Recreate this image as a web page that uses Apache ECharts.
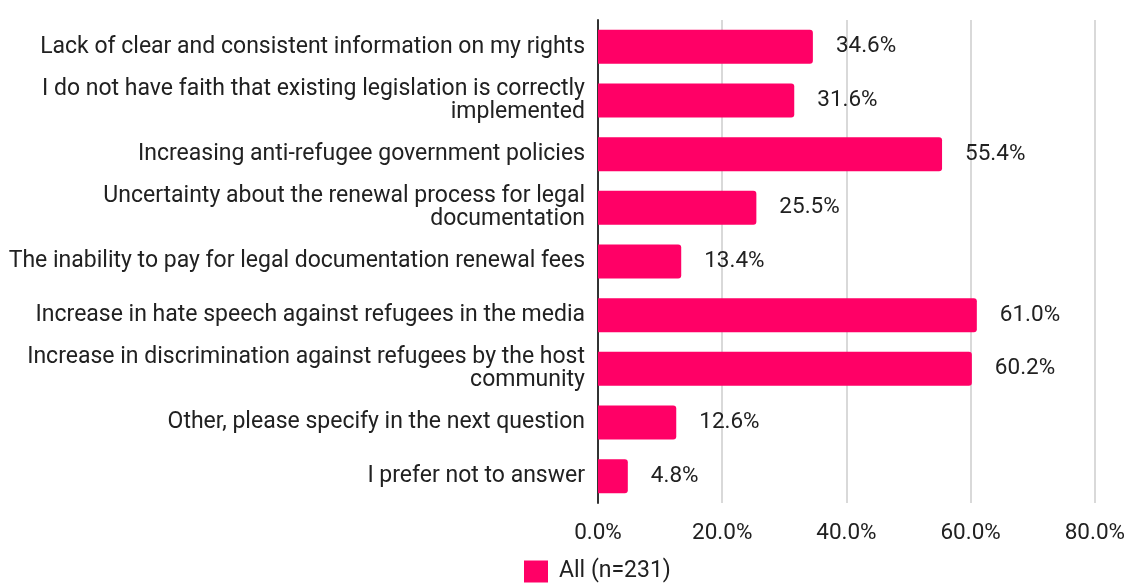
<!DOCTYPE html>
<html>
<head>
<meta charset="utf-8">
<script src="https://cdn.jsdelivr.net/npm/echarts@6/dist/echarts.min.js"></script>
<style>
  html, body { margin: 0; padding: 0; background: #fff; }
  #chart { width: 1128px; height: 588px; }
</style>
</head>
<body>
<div id="chart"></div>
<script>
// Survey answers, top to bottom as listed
const categories = [
  'Lack of clear and consistent information on my rights',
  'I do not have faith that existing legislation is correctly\nimplemented',
  'Increasing anti-refugee government policies',
  'Uncertainty about the renewal process for legal\ndocumentation',
  'The inability to pay for legal documentation renewal fees',
  'Increase in hate speech against refugees in the media',
  'Increase in discrimination against refugees by the host\ncommunity',
  'Other, please specify in the next question',
  'I prefer not to answer'
];
// Share of respondents (%)
const allValues = [34.6, 31.6, 55.4, 25.5, 13.4, 61.0, 60.2, 12.6, 4.8];
const seriesName = 'All (n=231)';

const FONT = 'Roboto, "Noto Sans", sans-serif';
const SIZE = 22.5;
const INK = '#212121';
const chart = echarts.init(document.getElementById('chart'), null, { renderer: 'canvas' });

chart.setOption({
  animation: false,
  textStyle: { fontFamily: FONT },
  grid: { left: 598, right: 30, top: 20, bottom: 85 },
  legend: {
    left: 519,
    bottom: 0,
    itemWidth: 24,
    itemHeight: 22,
    icon: 'rect',
    textStyle: { fontFamily: FONT, fontSize: 23, color: INK, padding: [0, 0, 0, 6] },
    data: [seriesName]
  },
  xAxis: {
    type: 'value',
    min: 0,
    max: 80,
    interval: 20,
    axisLine: { show: false },
    axisTick: { show: false },
    splitLine: { lineStyle: { color: '#cccccc', width: 1.5 } },
    axisLabel: {
      fontFamily: FONT,
      fontSize: SIZE,
      color: INK,
      margin: 19,
      formatter: v => v.toFixed(1) + '%'
    }
  },
  yAxis: {
    type: 'category',
    inverse: true,
    data: categories,
    axisLine: { show: true, lineStyle: { color: '#333', width: 2 } },
    axisTick: { show: false },
    axisLabel: {
      fontFamily: FONT,
      fontSize: 23,
      color: INK,
      margin: 13,
      align: 'right',
      lineHeight: 23
    }
  },
  series: [{
    name: seriesName,
    type: 'bar',
    data: allValues,
    barWidth: 34,
    itemStyle: { color: '#FF0066', borderRadius: [0, 3, 3, 0] },
    label: {
      show: true,
      position: 'right',
      distance: 23,
      fontFamily: FONT,
      fontSize: SIZE,
      color: INK,
      formatter: p => p.value.toFixed(1) + '%'
    }
  }]
});
</script>
</body>
</html>
